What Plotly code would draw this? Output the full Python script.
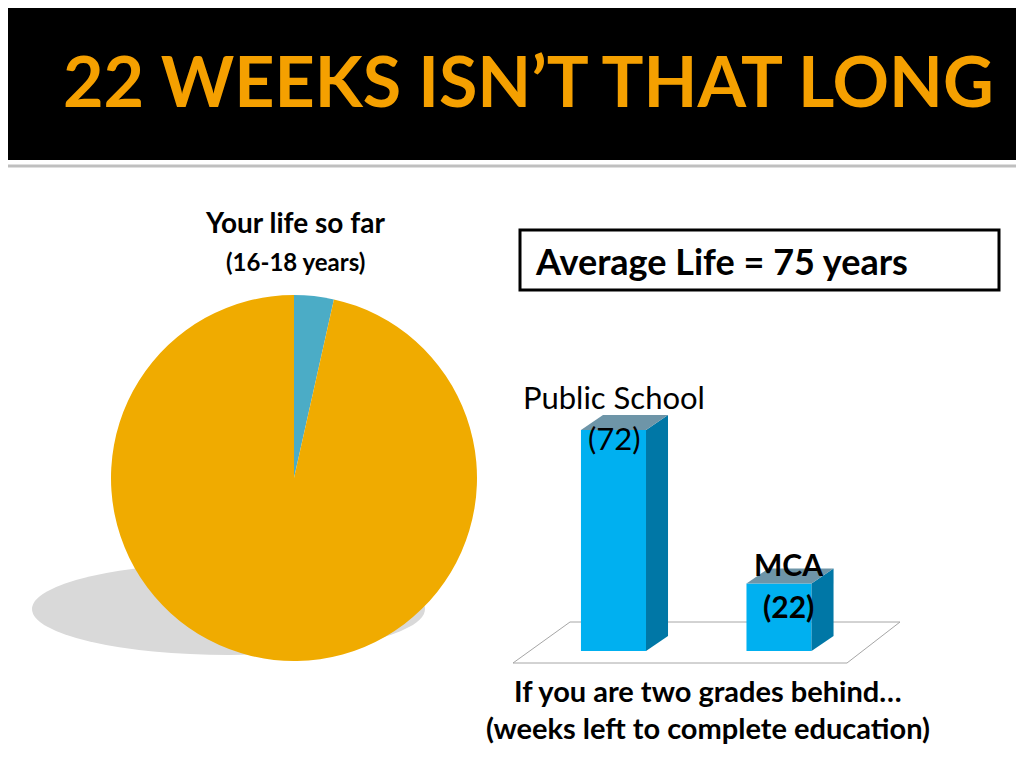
import plotly.graph_objects as go

pie_labels = ["Your life so far", "Rest of life"]
pie_values = [3.5, 96.5]
pie_colors = ["#4BACC6", "#F0AB00"]

bar_cats = ["Public School", "MCA"]
bar_values = [72, 22]

W, H = 1008, 752
def px(x): return (x - 8) / W
def py(y): return 1 - (y - 8) / H

fig = go.Figure()
fig.add_trace(go.Pie(labels=pie_labels, values=pie_values, sort=False, direction="counterclockwise",
                     rotation=0, marker=dict(colors=pie_colors), textinfo="none", hoverinfo="label",
                     domain=dict(x=[px(111), px(477)], y=[py(661), py(295)]), showlegend=False))

xs = [0, 1]
bw = 0.393
fig.add_trace(go.Bar(x=xs, y=bar_values, width=bw, marker=dict(color="#00B0F0", line=dict(width=0)),
                     xaxis="x2", yaxis="y2", showlegend=False, hovertext=bar_cats))

dx, dy = 0.133, 4.89
shapes = []
shapes.append(dict(type="path", xref="paper", yref="paper", layer="below",
                   path=f"M {px(513)} {py(663)} L {px(570)} {py(622)} L {px(900)} {py(622)} L {px(847)} {py(663)} Z",
                   line=dict(color="#A6A6A6", width=1), fillcolor="white"))
for x, v in zip(xs, bar_values):
    r = x + bw / 2; l = x - bw / 2
    shapes.append(dict(type="path", xref="x2", yref="y2",
                       path=f"M {r} 0 L {r+dx} {dy} L {r+dx} {v+dy} L {r} {v} Z",
                       fillcolor="#0077A6", line=dict(width=0)))
    shapes.append(dict(type="path", xref="x2", yref="y2",
                       path=f"M {l} {v} L {l+dx} {v+dy} L {r+dx} {v+dy} L {r} {v} Z",
                       fillcolor="#6E95A8", line=dict(width=0)))
shapes.append(dict(type="rect", xref="paper", yref="paper", x0=-0.05, x1=1.05, y0=py(160), y1=1.05,
                   fillcolor="black", line=dict(width=0), layer="below"))
shapes.append(dict(type="line", xref="paper", yref="paper", x0=-0.05, x1=1.05, y0=py(166), y1=py(166),
                   line=dict(color="#BFBFBF", width=3)))
shapes.append(dict(type="circle", xref="paper", yref="paper", x0=px(32), x1=px(425), y0=py(655), y1=py(563),
                   fillcolor="#D9D9D9", line=dict(width=0), layer="below"))
shapes.append(dict(type="rect", xref="paper", yref="paper", x0=px(520), x1=px(999), y0=py(290), y1=py(230),
                   line=dict(color="black", width=3), fillcolor="white", layer="below"))

F = "Lato"
def ann(t, x, y, s, bold=False, color="black", xa="center"):
    return dict(text=f"<b>{t}</b>" if bold else t, x=px(x), y=py(y), xref="paper", yref="paper",
                showarrow=False, xanchor=xa, yanchor="middle", font=dict(family=F, size=s, color=color))

anns = [
    ann("22 WEEKS ISN’T THAT LONG", 528, 80, 70, True, "#F5A000"),
    ann("Your life so far", 295, 222, 28, True),
    ann("(16-18 years)", 295, 262, 24, True),
    ann("Average Life = 75 years", 533, 261, 36, True, xa="left"),
    ann("Public School", 614, 397, 31),
    ann("(72)", 614, 438, 31),
    ann("MCA", 788, 564, 30, True),
    ann("(22)", 788, 606, 30, True),
    ann("If you are two grades behind…", 708, 690, 29, True),
    ann("(weeks left to complete education)", 708, 727, 29, True),
]

fig.update_layout(
    width=W, height=H, margin=dict(l=0, r=0, t=0, b=0),
    paper_bgcolor="white", plot_bgcolor="rgba(0,0,0,0)",
    xaxis2=dict(domain=[px(515), px(900)], range=[-0.595, 1.731], visible=False, anchor="y2"),
    yaxis2=dict(domain=[py(651), py(651) + 80 * 3.07 / H], range=[0, 80], visible=False, anchor="x2"),
    xaxis=dict(visible=False), yaxis=dict(visible=False),
    shapes=shapes, annotations=anns,
)
fig.write_html("out.html")
